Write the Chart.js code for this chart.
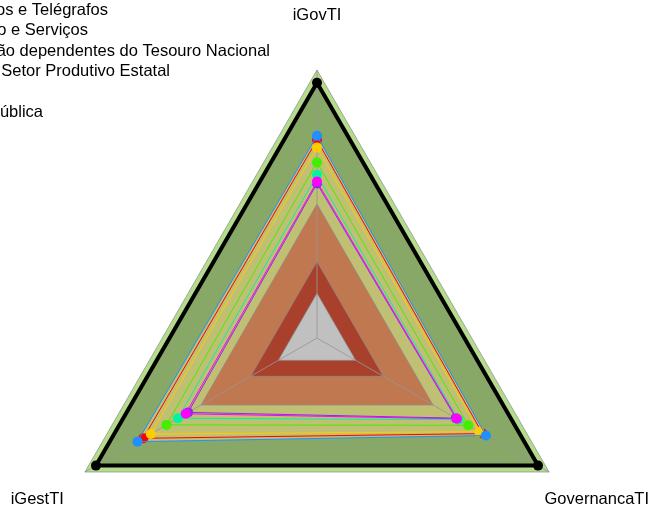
<!DOCTYPE html>
<html>
<head>
<meta charset="utf-8">
<script src="https://cdn.jsdelivr.net/npm/chart.js@4/dist/chart.umd.min.js"></script>
<style>
  html, body { margin: 0; padding: 0; background: #fff; overflow: hidden; width: 648px; height: 509px; }
  canvas { display: block; }
</style>
</head>
<body>
<canvas id="radar" width="648" height="607"></canvas>
<script>
// eixos, no sentido horário a partir do topo
const eixos = ["iGovTI", "GovernancaTI", "iGestTI"];

// faixas de referência (do centro para fora)
const faixaCinza = [0.175, 0.175, 0.175];
const faixaVermelha = [0.30, 0.30, 0.30];
const faixaLaranja = [0.525, 0.525, 0.525];
const faixaMaxima = [1.05, 1.05, 1.05];

// séries
const serieMaximo = [1, 1, 1];
const serieAzul = [0.792, 0.764, 0.812];
const serieVermelha = [0.776, 0.749, 0.786];
const serieAmarela = [0.746, 0.734, 0.752];
const serieVerde = [0.688, 0.684, 0.681];
const serieVerdeAgua = [0.639, 0.640, 0.629];
const serieMagenta = [0.613, 0.633, 0.594];
const serieRoxa = [0.605, 0.628, 0.583];

const nomesSeries = [
  "Empresa Brasileira de Correios e Telégrafos",
  "Ministério do Desenvolvimento, Indústria, Comércio e Serviços",
  "Empresas estatais não dependentes do Tesouro Nacional",
  "Empresas do Setor Produtivo Estatal",
  "",
  "Administração Pública",
  "Outros"
];

// legenda (cortada na margem esquerda, como no original)
const legendaLinhas = nomesSeries.slice(0, 6);
const legendaFimX = [108, 88, 270, 170, 0, 43];

const fonte = '16.5px "Liberation Sans", Arial, sans-serif';

const serie = (label, data, cor, order, extra) => Object.assign({
  label: label,
  data: data,
  borderColor: cor,
  borderWidth: 1,
  pointBackgroundColor: cor,
  pointBorderColor: cor,
  pointBorderWidth: 0,
  pointRadius: 5,
  fill: false,
  order: order,
}, extra || {});

const faixa = (label, data, cor, order) => ({
  label: label,
  data: data,
  backgroundColor: cor,
  borderColor: "rgba(140,140,140,0.7)",
  borderWidth: 1,
  pointRadius: 0,
  fill: true,
  order: order,
});

const rotulosEixos = {
  id: "rotulosEixos",
  afterDraw(chart) {
    const scale = chart.scales.r;
    const ctx = chart.ctx;
    ctx.save();
    ctx.font = fonte;
    ctx.fillStyle = "#000";
    ctx.textAlign = "center";
    ctx.textBaseline = "middle";
    eixos.forEach((nome, i) => {
      const p = scale.getPointPosition(i, 323);
      ctx.fillText(nome, p.x, p.y);
    });
    ctx.textAlign = "right";
    legendaLinhas.forEach((txt, i) => {
      if (txt) ctx.fillText(txt, legendaFimX[i], 10 + i * 20.5);
    });
    ctx.restore();
  }
};

new Chart(document.getElementById("radar").getContext("2d"), {
  type: "radar",
  data: {
    labels: eixos,
    datasets: [
      faixa("faixa externa", faixaMaxima, "#b4dc8c", 60),
      serie("Máximo", serieMaximo, "#000", 50, { borderWidth: 4, backgroundColor: "#87a866", fill: true }),
      serie(nomesSeries[0], serieAzul, "#1e90ff", 11, { backgroundColor: "#c0c074", fill: true }),
      serie(nomesSeries[1], serieVermelha, "#ff0000", 14),
      serie(nomesSeries[2], serieAmarela, "#ffcc00", 12),
      serie(nomesSeries[3], serieVerde, "#44ee00", 13),
      serie(nomesSeries[5], serieVerdeAgua, "#00f5a0", 15),
      serie(nomesSeries[6], serieMagenta, "#ff00ff", 10),
      serie("Roxo", serieRoxa, "#8a2be2", 16),
      faixa("laranja", faixaLaranja, "#c07850", 3),
      faixa("vermelha", faixaVermelha, "#a8402c", 2),
      faixa("cinza", faixaCinza, "#c0c0c0", 1),
    ],
  },
  options: {
    responsive: false,
    animation: false,
    layout: { padding: { left: 49, right: 62, top: 70, bottom: 0 } },
    plugins: {
      legend: { display: false },
      tooltip: { enabled: false },
      filler: { drawTime: "beforeDraw" },
    },
    scales: {
      r: {
        min: 0,
        max: 1.05,
        ticks: { display: false },
        grid: { display: false },
        angleLines: { display: true, color: "rgba(150,150,150,0.85)", lineWidth: 1 },
        pointLabels: { display: false },
      },
    },
  },
  plugins: [rotulosEixos],
});
</script>
</body>
</html>
